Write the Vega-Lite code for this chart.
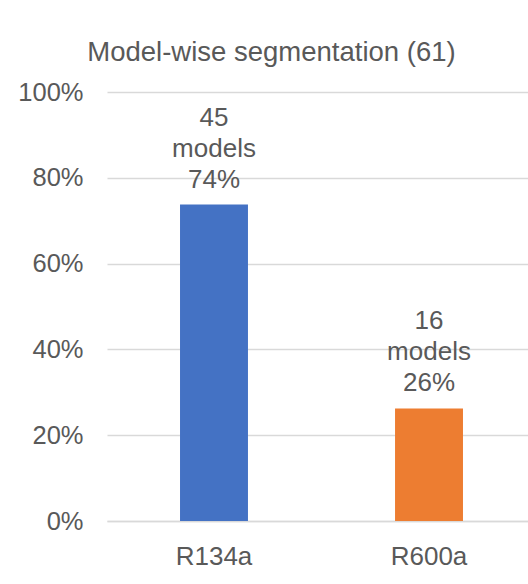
{
  "$schema": "https://vega.github.io/schema/vega-lite/v6.json",
  "width": 421,
  "height": 429,
  "autosize": {"type": "none"},
  "padding": {"left": 107, "top": 92, "right": 0, "bottom": 63},
  "background": "white",
  "config": {
    "view": {"stroke": null},
    "font": "Liberation Sans"
  },
  "title": {
    "text": "Model-wise segmentation (61)",
    "fontSize": 27.5,
    "font": "Liberation Sans",
    "fontWeight": "normal",
    "color": "#595959",
    "anchor": "middle",
    "dx": -46,
    "dy": 39,
    "baseline": "alphabetic",
    "offset": 31
  },
  "data": {
    "values": [
      {"refrigerant": "R134a", "models": 45, "share": 0.7377, "label": "45\nmodels\n74%"},
      {"refrigerant": "R600a", "models": 16, "share": 0.2623, "label": "16\nmodels\n26%"}
    ]
  },
  "encoding": {
    "x": {
      "field": "refrigerant",
      "type": "nominal",
      "sort": null,
      "scale": {"paddingInner": 0.684, "paddingOuter": 0.321, "align": 0.529},
      "axis": {
        "title": null,
        "labelAngle": 0,
        "ticks": false,
        "domainColor": "#d9d9d9",
        "domainWidth": 1.3,
        "labelFontSize": 26,
        "labelColor": "#595959",
        "labelPadding": 22,
        "labelFont": "Liberation Sans"
      }
    },
    "y": {
      "field": "share",
      "type": "quantitative",
      "scale": {"domain": [0, 1], "nice": false},
      "axis": {
        "title": null,
        "values": [0, 0.2, 0.4, 0.6, 0.8, 1],
        "format": ".0%",
        "ticks": false,
        "domain": false,
        "gridColor": "#d9d9d9",
        "gridWidth": 1.3,
        "labelFontSize": 25.5,
        "labelColor": "#595959",
        "labelPadding": 24,
        "labelFont": "Liberation Sans"
      }
    }
  },
  "layer": [
    {
      "mark": {"type": "bar"},
      "encoding": {
        "color": {
          "field": "refrigerant",
          "type": "nominal",
          "scale": {"domain": ["R134a", "R600a"], "range": ["#4472C4", "#ED7D31"]},
          "legend": null
        }
      }
    },
    {
      "mark": {
        "type": "text",
        "fontSize": 26,
        "color": "#595959",
        "baseline": "alphabetic",
        "align": "center",
        "dy": -79,
        "lineBreak": "\n",
        "lineHeight": 31,
        "font": "Liberation Sans"
      },
      "encoding": {
        "text": {"field": "label", "type": "nominal"}
      }
    }
  ]
}
